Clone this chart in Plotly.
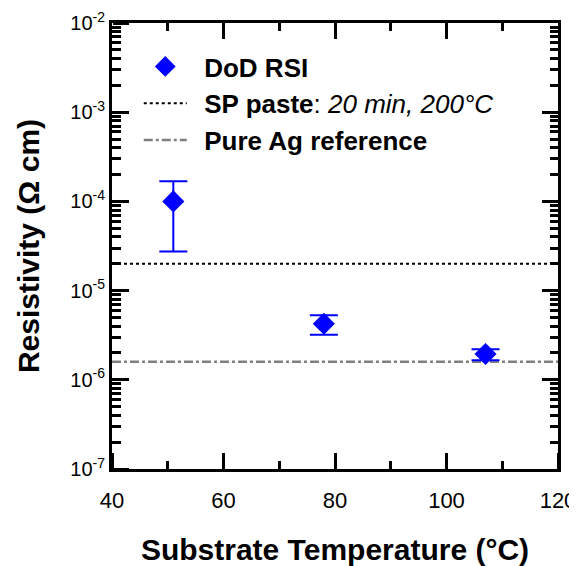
import plotly.graph_objects as go

# ---- data ----
temperature_c = [51, 78, 107]
resistivity = [1.0e-4, 4.25e-6, 1.95e-6]
resistivity_upper = [1.68e-4, 5.3e-6, 2.2e-6]
resistivity_lower = [2.75e-5, 3.2e-6, 1.66e-6]

sp_paste_level = 2.0e-5
pure_ag_level = 1.59e-6

x_range = [40, 120]
y_decades = [-7, -2]
x_tickvals = [40, 60, 80, 100, 120]
y_tickvals = [1e-7, 1e-6, 1e-5, 1e-4, 1e-3, 1e-2]
y_ticktext = ["10<sup>-7</sup>", "10<sup>-6</sup>", "10<sup>-5</sup>",
              "10<sup>-4</sup>", "10<sup>-3</sup>", "10<sup>-2</sup>"]
y_minor = [m * 10.0 ** e for e in range(-7, -2) for m in range(2, 10)]

FONT = "Arial, Liberation Sans, sans-serif"
NB = "\u00a0\u2009"

err_plus = [u - v for u, v in zip(resistivity_upper, resistivity)]
err_minus = [v - l for v, l in zip(resistivity, resistivity_lower)]

fig = go.Figure()

fig.add_trace(go.Scatter(
    x=x_range, y=[sp_paste_level] * 2, mode="lines",
    name=NB + "<b>SP paste</b>: <i>20 min, 200°C</i>",
    line=dict(color="black", width=2, dash="dot"),
    legendrank=2, hoverinfo="skip",
))
fig.add_trace(go.Scatter(
    x=x_range, y=[pure_ag_level] * 2, mode="lines",
    name=NB + "<b>Pure Ag reference</b>",
    line=dict(color="#808080", width=2.5, dash="dashdot"),
    legendrank=3, hoverinfo="skip",
))
fig.add_trace(go.Scatter(
    x=temperature_c, y=resistivity, mode="markers",
    name=NB + "<b>DoD RSI</b>",
    marker=dict(symbol="diamond", size=17, color="#0000FF"),
    error_y=dict(type="data", array=err_plus, arrayminus=err_minus,
                 color="#0000FF", thickness=2, width=14),
    legendrank=1,
))
# invisible traces carrying the tick-only axes
fig.add_trace(go.Scatter(
    x=temperature_c, y=resistivity, xaxis="x2", yaxis="y2", mode="markers",
    marker=dict(opacity=0), showlegend=False, hoverinfo="skip",
))
fig.add_trace(go.Scatter(
    x=temperature_c, y=resistivity, xaxis="x3", yaxis="y3", mode="markers",
    marker=dict(opacity=0), showlegend=False, hoverinfo="skip",
))

def tick_cfg(direction):
    return dict(ticks=direction, ticklen=16, tickwidth=2.5, tickcolor="black",
                showgrid=False, zeroline=False)

def minor_x(direction):
    return dict(dtick=10, ticks=direction, ticklen=8, tickwidth=2.5, tickcolor="black", showgrid=False)

def minor_y(direction):
    return dict(tickvals=y_minor, ticks=direction, ticklen=8, tickwidth=2.5, tickcolor="black", showgrid=False)

def tick_only_x(direction):
    return dict(range=x_range, tickvals=x_tickvals, showticklabels=False, showline=False,
                automargin=False, minor=minor_x(direction), **tick_cfg(direction))

def tick_only_y(direction):
    return dict(type="log", range=y_decades, tickvals=y_tickvals, showticklabels=False,
                showline=False, automargin=False, minor=minor_y(direction), **tick_cfg(direction))

# page body has an 8px margin: shift figure so the plot area lands at the reference spot
fig.update_layout(
    width=569, height=558,
    margin=dict(l=104, r=19, t=15, b=97),
    paper_bgcolor="white", plot_bgcolor="white",
    font=dict(family=FONT, color="black", size=21),
    showlegend=True,
    legend=dict(x=0.06, y=0.955, xanchor="left", yanchor="top",
                bgcolor="rgba(0,0,0,0)", font=dict(size=26, family=FONT),
                itemwidth=43, tracegroupgap=0),
    xaxis=dict(
        range=x_range, tickvals=x_tickvals, automargin=False,
        showline=True, linewidth=3, linecolor="black", mirror=True,
        minor=minor_x("inside"), **tick_cfg("inside"),
        tickfont=dict(size=22, family=FONT),
        ticklabelstandoff=10,
        title=dict(text="<b>Substrate Temperature (°C)</b>", font=dict(size=30, family=FONT), standoff=31),
    ),
    yaxis=dict(
        type="log", range=y_decades, tickvals=y_tickvals, ticktext=y_ticktext,
        automargin=False,
        showline=True, linewidth=3, linecolor="black", mirror=True,
        minor=minor_y("inside"), **tick_cfg("inside"),
        tickfont=dict(size=20, family=FONT),
        title=dict(text="<b>Resistivity (Ω cm)</b>", font=dict(size=30, family=FONT), standoff=22),
    ),
    # top and right tick rows
    xaxis2=dict(overlaying="x", side="top", anchor="y", **tick_only_x("inside")),
    yaxis2=dict(overlaying="y", side="right", anchor="x", **tick_only_y("inside")),
    # bottom and left tick rows: top/right-sided axes placed at the bottom/left edge, ticks pointing in
    xaxis3=dict(overlaying="x", side="top", anchor="free", position=0, **tick_only_x("outside")),
    yaxis3=dict(overlaying="y", side="right", anchor="free", position=0, **tick_only_y("outside")),
)

fig.write_html("out.html")
